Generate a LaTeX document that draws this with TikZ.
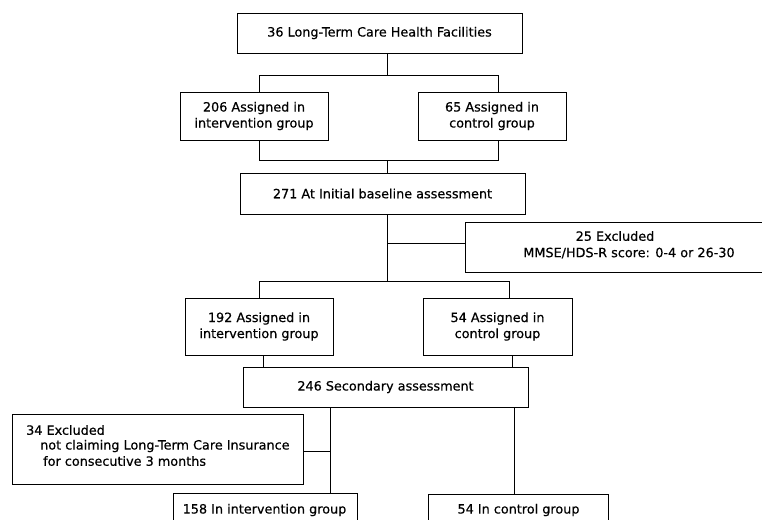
\documentclass[tikz,border=0pt]{standalone}
\usepackage{fontspec}
\setmainfont{DejaVu Sans}[FakeBold=0.5]
\begin{document}
\begin{tikzpicture}[x=1pt,y=-1pt,
  box/.style={draw, line width=0.9pt, rectangle, inner sep=0pt, align=center,
    font=\fontsize{12.8}{16}\selectfont},
  txt/.style={inner sep=0pt, font=\fontsize{12.8}{16}\selectfont},
  conn/.style={line width=0.9pt}]
\useasboundingbox (0,0) rectangle (762,519);
\fill[white] (0,0) rectangle (762,519);
% boxes
\node[box, minimum width=285pt, minimum height=40pt] (b36) at (379.5,33) {36 Long-Term Care Health Facilities};
\node[box, minimum width=148pt, minimum height=48pt] (b206) at (254,116) {206 Assigned in\\intervention group};
\node[box, minimum width=148pt, minimum height=48pt] (b65) at (492,116) {65 Assigned in\\control group};
\node[box, minimum width=285pt, minimum height=41pt] (b271) at (382.5,193.5) {271 At Initial baseline assessment};
\node[box, minimum width=310pt, minimum height=50pt] (b25) at (620,247) {};
\node[txt] (t25a) at (615,236) {25 Excluded};
\node[txt] (t25b) at (629,253) {MMSE/HDS-R score: 0-4 or 26-30};
\node[box, minimum width=148pt, minimum height=57pt] (b192) at (259,326.5) {192 Assigned in\\intervention group};
\node[box, minimum width=149pt, minimum height=57pt] (b54a) at (497.5,326.5) {54 Assigned in\\control group};
\node[box, minimum width=285pt, minimum height=40pt] (b246) at (385.5,387) {246 Secondary assessment};
\node[box, minimum width=291pt, minimum height=70pt] (b34) at (157.5,449) {};
\node[txt, anchor=west] (t34a) at (26,430) {34 Excluded};
\node[txt, anchor=west] (t34b) at (40,446) {not claiming Long-Term Care Insurance};
\node[txt, anchor=west] (t34c) at (43,461) {for consecutive 3 months};
\node[box, minimum width=184pt, minimum height=50pt] (b158) at (265,518) {};
\node[txt] (t158) at (264.5,510) {158 In intervention group};
\node[box, minimum width=180pt, minimum height=50pt] (b54c) at (518,519) {};
\node[txt] (t54c) at (518.5,510) {54 In control group};
% junction coordinates
\coordinate (j1C) at (387,75);
\coordinate (j1L) at (259,75);
\coordinate (j1R) at (498,75);
\coordinate (j2C) at (387,160);
\coordinate (j2L) at (259,160);
\coordinate (j2R) at (498,160);
\coordinate (j3C) at (387,281);
\coordinate (j3B) at (387,243);
\coordinate (j3L) at (259,281);
\coordinate (j3R) at (509,281);
\coordinate (j4L) at (263,360);
\coordinate (j4R) at (512,360);
\coordinate (j5L) at (330,451);
\coordinate (j5R) at (514,451);
% connectors
\draw[conn] (b36.south -| j1C) -- (j1C);
\draw[conn] (j1L |- b206.north) -- (j1L) -- (j1R) -- (j1R |- b65.north);
\draw[conn] (j2L |- b206.south) -- (j2L) -- (j2R) -- (j2R |- b65.south);
\draw[conn] (j2C) -- (j2C |- b271.north);
\draw[conn] (b271.south -| j3C) -- (j3C);
\draw[conn] (j3B) -- (j3B -| b25.west);
\draw[conn] (j3L |- b192.north) -- (j3L) -- (j3R) -- (j3R |- b54a.north);
\draw[conn] (j4L |- b192.south) -- (j4L |- b246.north);
\draw[conn] (j4R |- b54a.south) -- (j4R |- b246.north);
\draw[conn] (j5L |- b246.south) -- (j5L |- b158.north);
\draw[conn] (j5L) -- (j5L -| b34.east);
\draw[conn] (j5R |- b246.south) -- (j5R |- b54c.north);
\end{tikzpicture}
\end{document}
